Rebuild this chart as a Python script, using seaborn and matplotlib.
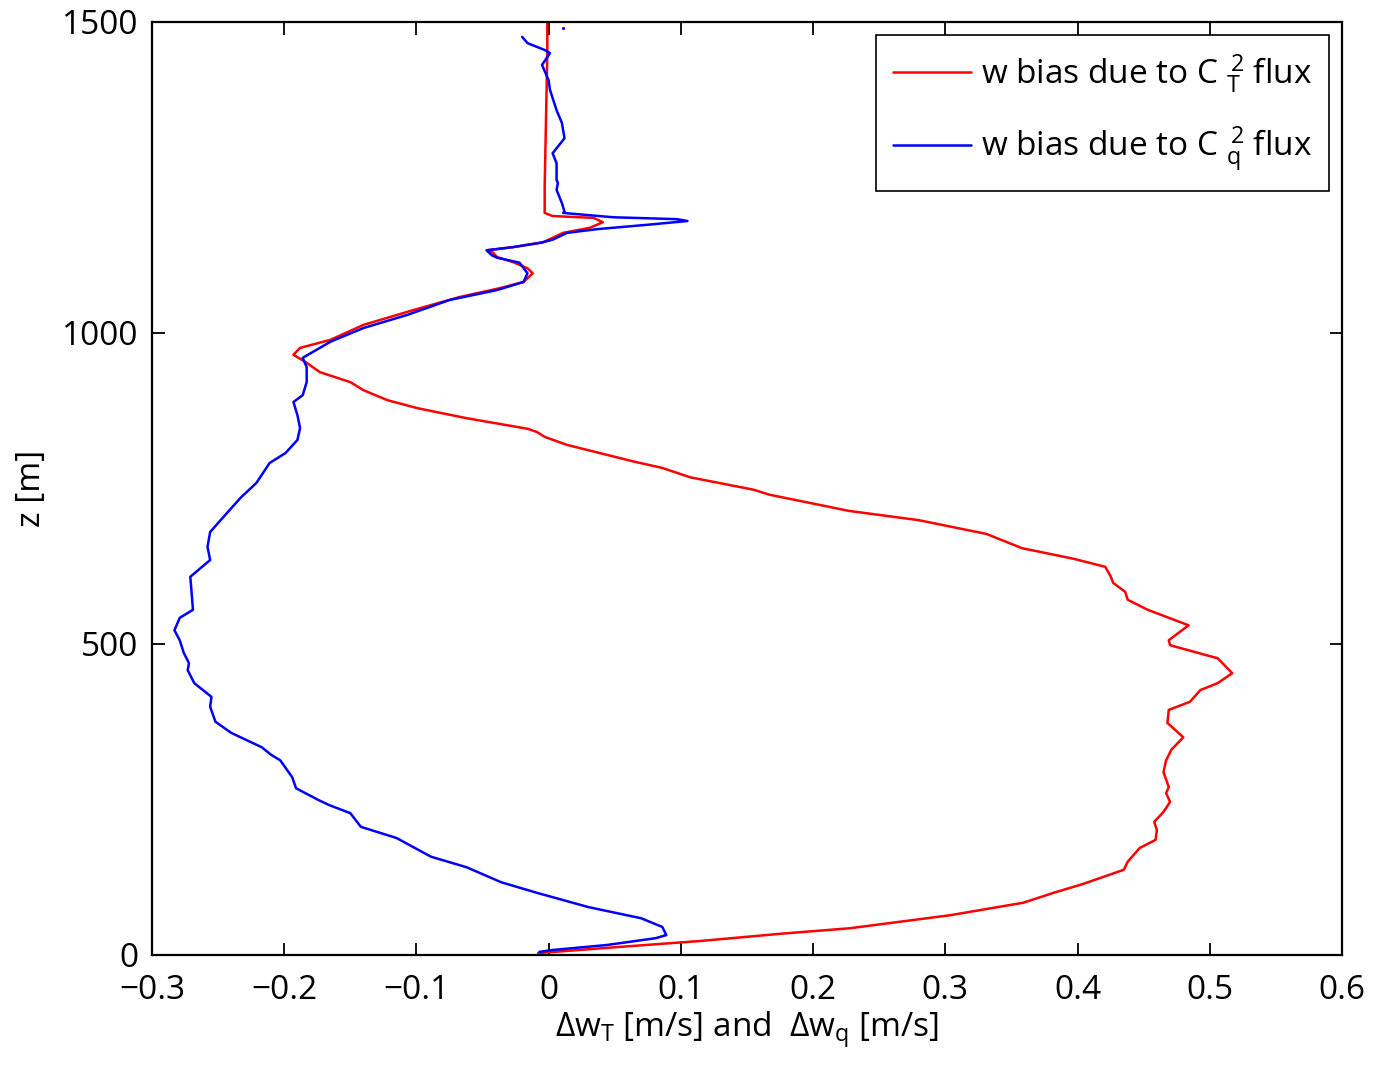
import numpy as np
import pandas as pd
import matplotlib
matplotlib.use("Agg")
import matplotlib.pyplot as plt
import seaborn as sns

# Vertical profiles of the velocity bias (m/s) against height z (m)
z_T = [3, 13, 22.5, 34, 43, 64, 84, 100, 114, 137, 150, 172, 185, 201, 214, 230,
       246, 260, 270, 294, 313, 330, 350, 373, 394, 407, 426, 437, 453, 477, 498,
       506, 530, 555, 571, 584, 598, 609, 624, 637, 654, 677, 699, 714, 740, 748,
       768, 783, 793, 820, 833, 841, 846, 863, 879, 892, 908, 921, 937, 952, 965,
       976, 989, 1013, 1037, 1058, 1072, 1082, 1096, 1104, 1114, 1122, 1129, 1133,
       1138, 1146, 1161, 1169, 1178, 1185, 1188, 1193, 1235, 1342, 1450, 1500]
dw_T = [-0.008, 0.054, 0.115, 0.175, 0.228, 0.304, 0.359, 0.382, 0.404, 0.435,
        0.438, 0.447, 0.459, 0.460, 0.458, 0.465, 0.470, 0.467, 0.469, 0.465,
        0.467, 0.471, 0.480, 0.468, 0.469, 0.485, 0.493, 0.506, 0.517, 0.506,
        0.470, 0.469, 0.484, 0.453, 0.438, 0.436, 0.427, 0.425, 0.421, 0.397,
        0.358, 0.331, 0.280, 0.227, 0.167, 0.155, 0.107, 0.086, 0.065, 0.014,
        -0.003, -0.009, -0.016, -0.062, -0.099, -0.122, -0.140, -0.150, -0.173,
        -0.183, -0.193, -0.188, -0.165, -0.140, -0.102, -0.067, -0.037, -0.019,
        -0.012, -0.016, -0.027, -0.039, -0.042, -0.046, -0.027, -0.004, 0.011,
        0.031, 0.041, 0.034, 0.003, -0.003, -0.003, -0.002, -0.001, -0.001]

z_q = [5, 8, 16, 27, 32, 45, 59, 77, 100, 117, 141, 158, 188, 206, 228, 241, 249,
       268, 286, 313, 322, 334, 357, 375, 399, 415, 437, 458, 469, 486, 506, 522,
       542, 555, 582, 608, 635, 656, 680, 704, 735, 759, 791, 807, 828, 847, 868,
       889, 900, 921, 945, 960, 986, 1008, 1029, 1053, 1069, 1082, 1096, 1113,
       1121, 1125, 1133, 1138, 1145, 1150, 1161, 1167, 1174, 1180, 1183, 1186,
       1193, 1195, 1209, 1230, 1241, 1246, 1273, 1289, 1313, 1338, 1358, 1391,
       1406, 1431, 1450, 1455, 1466, 1476]
dw_q = [-0.007, 0.003, 0.044, 0.081, 0.089, 0.086, 0.070, 0.030, -0.009, -0.036,
        -0.062, -0.089, -0.115, -0.142, -0.150, -0.166, -0.174, -0.191, -0.194,
        -0.203, -0.210, -0.217, -0.240, -0.252, -0.256, -0.255, -0.268, -0.273,
        -0.272, -0.276, -0.279, -0.283, -0.279, -0.269, -0.270, -0.271, -0.256,
        -0.258, -0.256, -0.246, -0.233, -0.221, -0.211, -0.199, -0.190, -0.188,
        -0.190, -0.193, -0.186, -0.183, -0.183, -0.186, -0.165, -0.140, -0.107,
        -0.075, -0.039, -0.019, -0.016, -0.022, -0.039, -0.043, -0.047, -0.027,
        -0.006, 0.003, 0.014, 0.037, 0.075, 0.105, 0.097, 0.049, 0.011, 0.012,
        0.010, 0.006, 0.007, 0.006, 0.006, 0.003, 0.012, 0.010, 0.006, 0.001,
        0.000, -0.005, 0.001, -0.003, -0.016, -0.020]

# isolated sample of the humidity profile near the top of the domain
z_q_top = [1490]
dw_q_top = [0.011]

series_labels = [r"w bias due to C $_{\mathrm{T}}^{\,2}$ flux",
                 r"w bias due to C $_{\mathrm{q}}^{\,2}$ flux"]
series_colors = ["#ff0000", "#0000ff"]

x_ticks = [-0.3, -0.2, -0.1, 0.0, 0.1, 0.2, 0.3, 0.4, 0.5, 0.6]
x_tick_labels = ["\u22120.3", "\u22120.2", "\u22120.1", "0", "0.1", "0.2",
                 "0.3", "0.4", "0.5", "0.6"]
y_ticks = [0, 500, 1000, 1500]
y_tick_labels = ["0", "500", "1000", "1500"]

df = pd.concat([
    pd.DataFrame({"dw": dw_T, "z": z_T, "series": series_labels[0]}),
    pd.DataFrame({"dw": dw_q, "z": z_q, "series": series_labels[1]}),
], ignore_index=True)

sns.set_style("ticks")
plt.rcParams["font.family"] = ["Open Sans", "DejaVu Sans"]
plt.rcParams["mathtext.fontset"] = "custom"
plt.rcParams["mathtext.rm"] = "Open Sans"
plt.rcParams["mathtext.it"] = "Open Sans"
plt.rcParams["mathtext.default"] = "regular"
plt.rcParams["text.color"] = "black"
plt.rcParams["axes.labelcolor"] = "black"
plt.rcParams["xtick.color"] = "black"
plt.rcParams["ytick.color"] = "black"

FS = 24

fig = plt.figure(figsize=(13.74, 10.67), dpi=100)
ax = fig.add_axes([0.1106, 0.105, 0.8661, 0.8744])

sns.lineplot(data=df, x="dw", y="z", hue="series",
             palette=dict(zip(series_labels, series_colors)),
             sort=False, estimator=None, linewidth=1.8, ax=ax)
sns.scatterplot(x=dw_q_top, y=z_q_top, color=series_colors[1], s=5,
                linewidth=0, legend=False, ax=ax)

ax.set_xlim(-0.3, 0.6)
ax.set_ylim(0, 1500)
ax.set_xticks(x_ticks)
ax.set_xticklabels(x_tick_labels)
ax.set_yticks(y_ticks)
ax.set_yticklabels(y_tick_labels)

ax.tick_params(axis="both", direction="in", length=9, width=1.3,
               top=True, right=True, labelsize=FS, colors="black")
ax.tick_params(axis="x", pad=14)
ax.tick_params(axis="y", pad=10)
for sp in ax.spines.values():
    sp.set_visible(True)
    sp.set_linewidth(1.6)
    sp.set_color("black")

ax.set_xlabel(r"$\Delta$w$_{\mathrm{T}}$ [m/s] and  $\Delta$w$_{\mathrm{q}}$ [m/s]",
              fontsize=FS, labelpad=1)
ax.set_ylabel("z [m]", fontsize=FS, labelpad=10)

handles, labels = ax.get_legend_handles_labels()
leg = ax.legend(handles[:2], labels[:2], loc="upper right", fontsize=FS,
                frameon=True, fancybox=False, framealpha=1,
                edgecolor="black", borderaxespad=0.4, handlelength=2.35,
                handletextpad=0.3, labelspacing=0.9, borderpad=0.5)
leg.get_frame().set_linewidth(1.2)

fig.savefig("out.png", dpi=100)
